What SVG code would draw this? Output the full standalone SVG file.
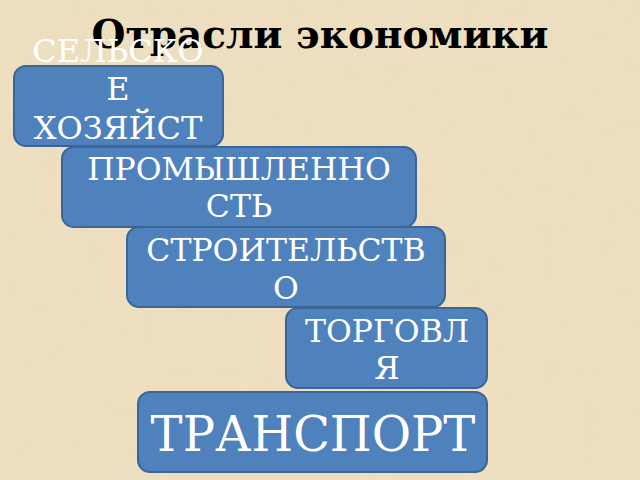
<svg xmlns="http://www.w3.org/2000/svg" width="640" height="480" viewBox="0 0 640 480">
  <defs>
    <filter id="paper" x="0" y="0" width="100%" height="100%">
      <feTurbulence type="fractalNoise" baseFrequency="0.05" numOctaves="5" seed="7" result="n"/>
      <feColorMatrix in="n" type="matrix" values="0 0 0 0 0.84  0 0 0 0 0.72  0 0 0 0 0.52  0 0 0 -2.2 1.3" result="c"/>
      <feComposite in="c" in2="SourceGraphic" operator="over"/>
    </filter>
    <style>
      .box { fill: #4F81BD; stroke: #3B6596; stroke-width: 2; }
      .lbl { font-family: "DejaVu Serif", "Liberation Serif", serif; fill: #FFFFFF; text-anchor: middle; }
      .title { font-family: "DejaVu Serif", "Liberation Serif", serif; font-weight: bold; fill: #000000; text-anchor: middle; }
    </style>
  </defs>
  <rect x="0" y="0" width="640" height="480" fill="#EDDFC0" filter="url(#paper)"/>
  <g id="title">
    <text class="title" x="320" y="48" font-size="39">Отрасли экономики</text>
  </g>
  <g id="connectors"></g>
  <g id="node-agriculture">
    <rect class="box" x="14" y="66" width="209" height="80" rx="12"/>
    <text class="lbl" font-size="32" x="118" y="62">СЕЛЬСКО</text>
    <text class="lbl" font-size="32" x="118" y="100">Е</text>
    <text class="lbl" font-size="32" x="118" y="139">ХОЗЯЙСТ</text>
  </g>
  <g id="node-industry">
    <rect class="box" x="62" y="147" width="354" height="80" rx="12"/>
    <text class="lbl" font-size="31.5" x="239" y="180">ПРОМЫШЛЕННО</text>
    <text class="lbl" font-size="31.5" x="239" y="217">СТЬ</text>
  </g>
  <g id="node-construction">
    <rect class="box" x="127" y="227" width="318" height="80" rx="12"/>
    <text class="lbl" font-size="31.5" x="286" y="261">СТРОИТЕЛЬСТВ</text>
    <text class="lbl" font-size="31.5" x="286" y="299">О</text>
  </g>
  <g id="node-trade">
    <rect class="box" x="286" y="308" width="201" height="80" rx="12"/>
    <text class="lbl" font-size="31.5" x="387" y="342">ТОРГОВЛ</text>
    <text class="lbl" font-size="31.5" x="387" y="379">Я</text>
  </g>
  <g id="node-transport">
    <rect class="box" x="138" y="392" width="349" height="80" rx="12"/>
    <text class="lbl" font-size="48" x="313" y="451">ТРАНСПОРТ</text>
  </g>
</svg>
